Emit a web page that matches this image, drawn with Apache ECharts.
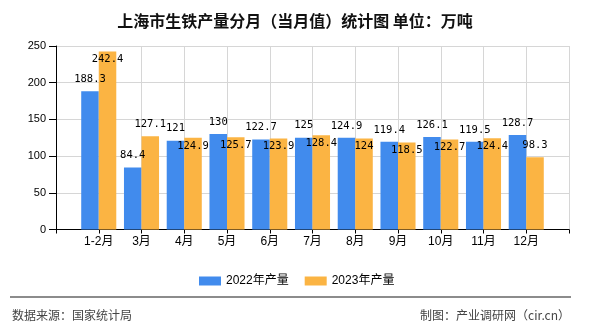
<!DOCTYPE html>
<html>
<head>
<meta charset="utf-8">
<script src="https://cdn.jsdelivr.net/npm/echarts@6/dist/echarts.min.js"></script>
<style>
html,body{margin:0;padding:0;background:#fff;}
#c{width:590px;height:330px;}
</style>
</head>
<body>
<div id="c"></div>
<script>
const categories = ['1-2月','3月','4月','5月','6月','7月','8月','9月','10月','11月','12月'];
const output2022 = [188.3, 84.4, 121, 130, 122.7, 125, 124.9, 119.4, 126.1, 119.5, 128.7];
const output2023 = [242.4, 127.1, 124.9, 125.7, 123.9, 128.4, 124, 118.5, 122.7, 124.4, 98.3];
const seriesNames = ['2022年产量', '2023年产量'];
const yMin = 0, yMax = 250, yInterval = 50;
// which 2023 labels were pushed inside the bar top in the reference (to avoid overlap)
const label2023Inside = [true, false, true, true, true, true, true, true, true, true, false];

const axisCats = [''].concat(categories, ['']);
const pad = arr => ['-'].concat(arr, ['-']);

const labelFont = 'DejaVu Sans Mono';
const d2023 = pad(output2023).map((v, i) => {
  if (v === '-') return v;
  const inside = label2023Inside[i - 1];
  return inside ? {value: v, label: {position: 'insideTop', distance: 2.5}} : v;
});

const chart = echarts.init(document.getElementById('c'), null, {renderer: 'canvas'});
chart.setOption({
  backgroundColor: '#fff',
  animation: false,
  title: {
    text: '上海市生铁产量分月（当月值）统计图 单位：万吨',
    left: 'center',
    top: 8,
    textStyle: {fontSize: 16, fontWeight: 'bold', color: '#111', fontFamily: 'Noto Sans CJK SC'}
  },
  legend: {
    data: seriesNames,
    left: 194,
    top: 270,
    itemWidth: 22,
    itemHeight: 9,
    itemGap: 16,
    icon: 'rect',
    textStyle: {fontSize: 12, color: '#000', fontFamily: 'Liberation Sans, Noto Sans CJK SC'}
  },
  grid: {left: 56, right: 21, top: 46, bottom: 100.5, containLabel: false},
  xAxis: {
    type: 'category',
    data: axisCats,
    boundaryGap: false,
    axisLine: {lineStyle: {color: '#000', width: 1}},
    axisTick: {show: true, length: 4, interval: 0, lineStyle: {color: '#000'}},
    axisLabel: {interval: 0, margin: 6, fontSize: 12, color: '#000', fontFamily: 'Liberation Sans, Noto Sans CJK SC'},
    splitLine: {show: true, interval: (idx) => idx >= 2, lineStyle: {color: '#d6d6d6', width: 1}}
  },
  yAxis: {
    type: 'value',
    min: yMin, max: yMax, interval: yInterval,
    axisLine: {show: true, lineStyle: {color: '#000', width: 1}},
    axisTick: {show: true, length: 7, lineStyle: {color: '#000'}},
    axisLabel: {margin: 10, fontSize: 11, color: '#000', fontFamily: 'Liberation Sans'},
    splitLine: {show: true, lineStyle: {color: '#d6d6d6', width: 1}}
  },
  series: [
    {
      name: seriesNames[0], type: 'bar', data: pad(output2022),
      barWidth: '41%', barGap: '0%',
      itemStyle: {color: '#418bed'},
      label: {show: true, position: 'top', distance: 6.5, fontSize: 10.5, color: '#000', fontFamily: labelFont}
    },
    {
      name: seriesNames[1], type: 'bar', data: d2023,
      barWidth: '41%', barGap: '0%',
      itemStyle: {color: '#fbb443'},
      label: {show: true, position: 'top', distance: 6.5, fontSize: 10.5, color: '#000', fontFamily: labelFont}
    }
  ],
  graphic: [
    {type: 'line', shape: {x1: 10, y1: 297, x2: 571, y2: 297}, style: {stroke: '#8c8c8c', lineWidth: 2}},
    {type: 'text', left: 12, top: 309, style: {text: '数据来源：国家统计局', fontSize: 12, fill: '#444', fontFamily: 'Noto Sans CJK SC'}},
    {type: 'text', right: 20, top: 309, style: {text: '制图：产业调研网（cir.cn）', fontSize: 12, fill: '#444', fontFamily: 'Noto Sans CJK SC'}}
  ]
});
</script>
</body>
</html>
